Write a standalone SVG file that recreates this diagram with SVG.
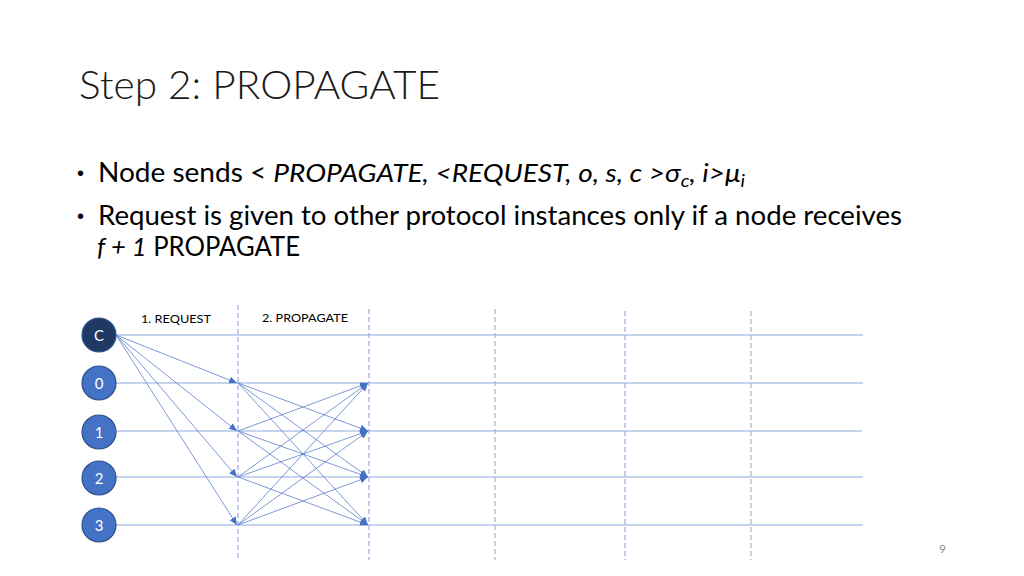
<svg xmlns="http://www.w3.org/2000/svg" width="1024" height="576" viewBox="0 0 1024 576">
<style>
.title{font-family:Lato,"Open Sans","Liberation Sans",sans-serif;font-size:40px;font-weight:300;fill:#1a1a1a}
.body{font-family:Lato,"Open Sans","Liberation Sans",sans-serif;font-size:26px;fill:#000}
.bul{font-family:"Liberation Sans",Arial,sans-serif;font-size:20px;fill:#000}
.lbl{font-family:Lato,"Open Sans","Liberation Sans",sans-serif;font-size:12px;fill:#000}
.pg{font-family:Lato,"Open Sans","Liberation Sans",sans-serif;font-size:12px;fill:#8c8c8c}
.nt{font-family:Lato,"Open Sans","Liberation Sans",sans-serif;font-size:15px;fill:#fff;text-anchor:middle}
.node{fill:#4472c4;stroke:#2f528f;stroke-width:1.2}
.cnode{fill:#1f3864;stroke:#2f528f;stroke-width:1.2}
.hl{stroke:#8faadc;stroke-width:1.1;fill:none}
.vd1{stroke:#b4b8e6;stroke-width:1.5;stroke-dasharray:5 3;fill:none}
.vd2{stroke:#8fa2c8;stroke-width:1;stroke-dasharray:5 3;fill:none}
.ar{stroke:#5b7fcc;stroke-width:0.8;fill:none;marker-end:url(#ah)}
</style>
<defs>
<marker id="ah" markerUnits="userSpaceOnUse" markerWidth="9" markerHeight="9" viewBox="0 0 9 9" refX="8" refY="4.5" orient="auto">
<path d="M0,1 L8,4.5 L0,8 Z" fill="#4472c4"/>
</marker>
</defs>
<rect width="1024" height="576" fill="#fff"/>
<text class="title" x="79" y="99" textLength="361" lengthAdjust="spacingAndGlyphs">Step 2: PROPAGATE</text>
<text class="bul" x="77" y="180">•</text>
<text class="body" x="98" y="182" textLength="647" lengthAdjust="spacingAndGlyphs">Node sends &lt; <tspan font-style="italic">PROPAGATE, &lt;REQUEST, o, s, c &gt;σ<tspan font-size="18" dy="5">c</tspan><tspan dy="-5">, i&gt;μ</tspan><tspan font-size="18" dy="5">i</tspan></tspan></text>
<text class="bul" x="77" y="223">•</text>
<text class="body" x="98" y="225" textLength="804" lengthAdjust="spacingAndGlyphs">Request is given to other protocol instances only if a node receives</text>
<text class="body" x="97" y="256" textLength="203" lengthAdjust="spacingAndGlyphs"><tspan font-style="italic">f + 1</tspan> PROPAGATE</text>
<text class="lbl" x="141" y="323" textLength="70" lengthAdjust="spacingAndGlyphs">1. REQUEST</text>
<text class="lbl" x="262" y="322" textLength="86" lengthAdjust="spacingAndGlyphs">2. PROPAGATE</text>
<text class="pg" x="939" y="553">9</text>
<g id="grid">
<line class="vd1" x1="238" y1="305" x2="238" y2="558"/>
<line class="vd1" x1="369" y1="309" x2="369" y2="560"/>
<line class="vd2" x1="495" y1="309" x2="495" y2="560"/>
<line class="vd1" x1="625" y1="311" x2="625" y2="560"/>
<line class="vd2" x1="751" y1="311" x2="751" y2="560"/>
<line class="hl" x1="116" y1="335" x2="863" y2="335"/>
<line class="hl" x1="116" y1="383" x2="863" y2="383"/>
<line class="hl" x1="116" y1="431" x2="862" y2="431"/>
<line class="hl" x1="116" y1="477" x2="863" y2="477"/>
<line class="hl" x1="116" y1="525" x2="863" y2="525"/>
</g>
<g id="connectors">
<line class="ar" x1="116" y1="335" x2="237" y2="383"/>
<line class="ar" x1="116" y1="335" x2="237" y2="431"/>
<line class="ar" x1="116" y1="335" x2="237" y2="477"/>
<line class="ar" x1="116" y1="335" x2="237" y2="525"/>
<line class="ar" x1="238" y1="383" x2="368" y2="431"/>
<line class="ar" x1="238" y1="383" x2="368" y2="477"/>
<line class="ar" x1="238" y1="383" x2="368" y2="525"/>
<line class="ar" x1="238" y1="431" x2="368" y2="383"/>
<line class="ar" x1="238" y1="431" x2="368" y2="477"/>
<line class="ar" x1="238" y1="431" x2="368" y2="525"/>
<line class="ar" x1="238" y1="477" x2="368" y2="383"/>
<line class="ar" x1="238" y1="477" x2="368" y2="431"/>
<line class="ar" x1="238" y1="477" x2="368" y2="525"/>
<line class="ar" x1="238" y1="525" x2="368" y2="383"/>
<line class="ar" x1="238" y1="525" x2="368" y2="431"/>
<line class="ar" x1="238" y1="525" x2="368" y2="477"/>
</g>
<g id="node-C"><circle class="cnode" cx="99" cy="335" r="17"/><text class="nt" x="99" y="340.5">C</text></g>
<g id="node-0"><circle class="node" cx="99" cy="383" r="17"/><text class="nt" x="99" y="388.5">0</text></g>
<g id="node-1"><circle class="node" cx="99" cy="432" r="17"/><text class="nt" x="99" y="437.5">1</text></g>
<g id="node-2"><circle class="node" cx="99" cy="478" r="17"/><text class="nt" x="99" y="483.5">2</text></g>
<g id="node-3"><circle class="node" cx="99" cy="525" r="17"/><text class="nt" x="99" y="530.5">3</text></g>
</svg>
